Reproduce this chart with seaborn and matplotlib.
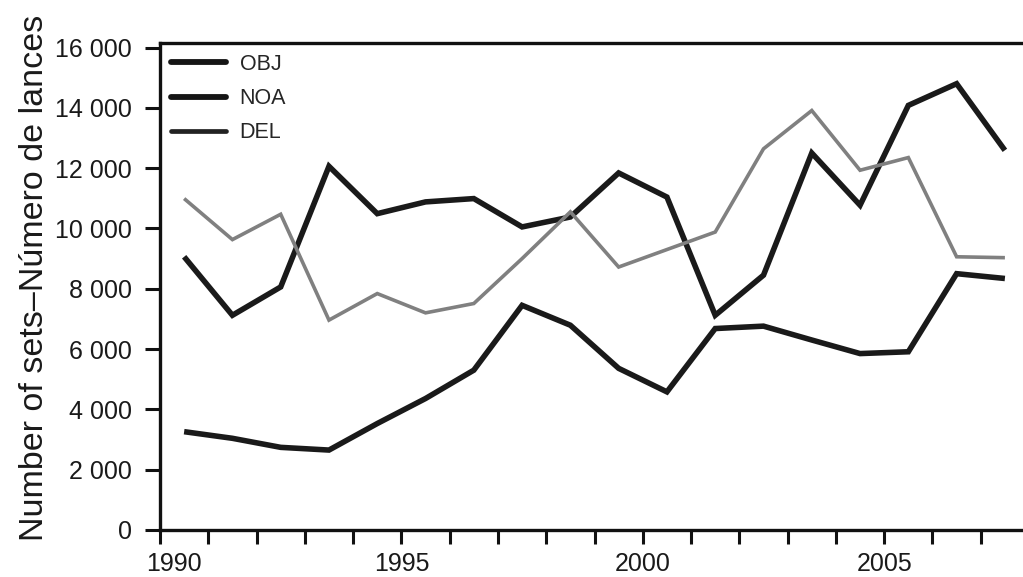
import numpy as np
import pandas as pd
import matplotlib
matplotlib.use("Agg")
import matplotlib.pyplot as plt
import matplotlib.transforms as mtransforms
from matplotlib.ticker import FuncFormatter
import seaborn as sns

# ------------------------
# DATA (sets per year)
# ------------------------
years = list(range(1990, 2008))
obj_sets = [3260, 3040, 2740, 2650, 3530, 4360, 5300, 7450, 6790,
            5360, 4580, 6680, 6760, 6300, 5850, 5910, 8500, 8340]
noa_sets = [9060, 7120, 8060, 12060, 10490, 10880, 10990, 10050, 10380,
            11840, 11040, 7120, 8450, 12500, 10770, 14080, 14800, 12590]
del_sets = [10990, 9630, 10470, 6960, 7840, 7200, 7510, 9000, 10550,
            8720, 9300, 9880, 12640, 13910, 11930, 12350, 9060, 9030]
series_names = ["OBJ", "NOA", "DEL"]

df = pd.DataFrame({
    "year": years * 3,
    "sets": obj_sets + noa_sets + del_sets,
    "type": sum([[name] * len(years) for name in series_names], []),
})
# points sit in the middle of each year
df["x"] = df["year"] + 0.5

# ------------------------
# STYLE
# ------------------------
sns.set_style("ticks")
plt.rcParams["font.family"] = ["Liberation Sans", "DejaVu Sans"]

palette = {"OBJ": "#1a1a1a", "NOA": "#1a1a1a", "DEL": "#808080"}
widths = {"OBJ": 4.0, "NOA": 4.0, "DEL": 2.6}

fig = plt.figure(figsize=(10.23, 5.77), dpi=100)
ax = fig.add_axes([0.1564, 0.0815, 0.8495, 0.844])

sns.lineplot(data=df, x="x", y="sets", hue="type", hue_order=series_names,
             palette=palette, ax=ax, legend=False)
for line, name in zip(ax.get_lines(), series_names):
    line.set_linewidth(widths[name])
    line.set_solid_joinstyle("miter")
    line.set_solid_capstyle("butt")

ax.set_xlim(1990, 2008)
ax.set_ylim(0, 16150)

# axes / ticks
for side in ["left", "bottom", "top"]:
    ax.spines[side].set_linewidth(2.4)
    ax.spines[side].set_color("#111111")
ax.spines["right"].set_visible(False)

ax.set_yticks(range(0, 16001, 2000))
ax.yaxis.set_major_formatter(FuncFormatter(lambda v, p: f"{int(v):,}".replace(",", " ")))
ax.set_xticks(years)
ax.set_xticklabels([str(y) if y % 5 == 0 else "" for y in years])
ax.tick_params(axis="both", direction="out", width=2.2, color="#111111",
               labelsize=18, labelcolor="#1a1a1a")
ax.tick_params(axis="y", length=11, pad=9)
ax.tick_params(axis="x", length=10, pad=6)

# the 1990 label sits a bit to the right of the spine
lbl = ax.get_xticklabels()[0]
lbl.set_transform(lbl.get_transform() +
                  mtransforms.ScaledTranslation(14 / 100, 0, fig.dpi_scale_trans))

ax.set_xlabel("")
ax.set_ylabel("Number of sets\u2013N\u00famero de lances", fontsize=24.5,
              color="#1a1a1a")
ax.yaxis.set_label_coords(-0.127, 0.517)

# legend (handles drawn dark like the printed key)
handles = [plt.Line2D([], [], color="#151515", lw=4.2),
           plt.Line2D([], [], color="#151515", lw=4.2),
           plt.Line2D([], [], color="#222222", lw=3.4)]
ax.legend(handles, series_names, loc="upper left", frameon=False,
          fontsize=15.5, handlelength=2.55, handletextpad=0.65,
          labelspacing=0.62, borderpad=0.2, borderaxespad=0.3)

fig.savefig("out.png", dpi=100)
